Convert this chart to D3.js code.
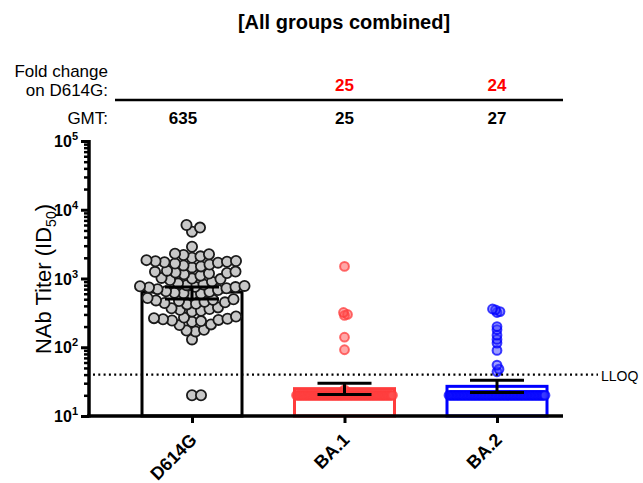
<!DOCTYPE html>
<html>
<head>
<meta charset="utf-8">
<script src="https://cdn.jsdelivr.net/npm/d3@7"></script>
<style>
  body { margin: 0; background: #fff; }
  text { font-family: "Liberation Sans", Arial, sans-serif; }
</style>
</head>
<body>
<div id="chart"></div>
<script>
// groups and summary values
var categories = ["D614G", "BA.1", "BA.2"];
var gmt = [635, 25, 27];
var foldChange = ["", "25", "24"];
var ciLow = [505, 20.5, 22];
var ciHigh = [755, 30, 33];
var lloq = 40;
var majorTicks = [10, 100, 1000, 10000, 100000];

// individual titers
var d614g = [6000, 5500, 4800, 2900,
  2300, 2250, 2200, 2100, 2000,
  1850, 1800, 1780, 1750, 1720, 1700, 1650, 1600,
  1550, 1500, 1450,
  1300, 1260, 1250, 1220, 1200, 1180, 1150, 1100,
  1020, 1000, 980, 950, 900,
  850, 820, 800, 780, 770, 760, 750, 740, 720, 700, 680,
  650, 640, 620, 610, 600, 580,
  520, 500, 490, 480, 470, 460, 450, 440, 430, 420,
  380, 370, 360, 350, 340, 330,
  280, 270, 265, 260, 255, 250, 245, 240, 235,
  215, 210, 180, 175, 170, 130, 20, 20];
var ba1 = [1500, 320, 300, 290, 140, 92, 24];
var ba2 = [360, 350, 330, 320, 200, 180, 150, 130, 115, 90, 55, 48, 44];
var nFloor = [0, 76, 70];   // samples sitting at the floor value (20)
var floorValue = 20;

var strokeCol = ["#000000", "#ff3c3c", "#0000ff"],
    dotFill = ["#c8c8c8", "rgba(255,80,80,0.5)", "rgba(60,60,255,0.5)"];

var width = 643, height = 483;

var svg = d3.select("#chart").append("svg")
  .attr("width", width)
  .attr("height", height);

var y = d3.scaleLog().domain([10, 100000]).range([416, 141]);
var x = d3.scalePoint().domain(categories).range([192, 497]);
var barW = 100;

// title
svg.append("text")
  .attr("x", 344).attr("y", 29)
  .attr("text-anchor", "middle")
  .style("font-size", "20px").style("font-weight", "bold")
  .text("[All groups combined]");

// header table
svg.append("text").attr("x", 108).attr("y", 77).attr("text-anchor", "end")
  .style("font-size", "17px").text("Fold change");
svg.append("text").attr("x", 108).attr("y", 96).attr("text-anchor", "end")
  .style("font-size", "17px").text("on D614G:");
svg.append("text").attr("x", 108).attr("y", 124).attr("text-anchor", "end")
  .style("font-size", "17px").text("GMT:");

svg.append("line")
  .attr("x1", 115).attr("x2", 563).attr("y1", 100).attr("y2", 100)
  .attr("stroke", "#000").attr("stroke-width", 2.5);

svg.selectAll(".fold").data(categories).enter().append("text")
  .attr("x", function(d) { return x(d); })
  .attr("y", 91)
  .attr("text-anchor", "middle")
  .style("font-size", "17px").style("font-weight", "bold")
  .attr("fill", "#ff0000")
  .text(function(d, i) { return foldChange[i]; });

svg.selectAll(".gmt").data(categories).enter().append("text")
  .attr("x", function(d, i) { return i == 0 ? x(d) - 9 : x(d); })
  .attr("y", 124)
  .attr("text-anchor", "middle")
  .style("font-size", "17px").style("font-weight", "bold")
  .text(function(d, i) { return gmt[i]; });

// bars
svg.selectAll(".bar").data(categories).enter().append("rect")
  .attr("x", function(d) { return x(d) - barW / 2; })
  .attr("y", function(d, i) { return y(gmt[i]); })
  .attr("width", barW)
  .attr("height", function(d, i) { return y(10) - y(gmt[i]); })
  .attr("fill", "#fff")
  .attr("stroke", function(d, i) { return strokeCol[i]; })
  .attr("stroke-width", 3);

// simple beeswarm: keep each y, push x out until no overlap
function swarm(values, cx, dist) {
  var placed = [];
  var pts = values.map(function(v) { return { v: v, y: y(v) }; })
    .sort(function(a, b) { return a.v - b.v; });
  pts.forEach(function(p) {
    for (var k = 0; k < 400; k++) {
      var off = (k % 2 ? 1 : -1) * Math.ceil(k / 2) * 0.5;
      var ok = placed.every(function(q) {
        var dx = q.x - (cx + off), dy = q.y - p.y;
        return dx * dx + dy * dy >= dist * dist;
      });
      if (ok) { p.x = cx + off; break; }
    }
    placed.push(p);
  });
  return placed;
}

var groups = [d614g, ba1, ba2];
groups.forEach(function(vals, gi) {
  var cx = x(categories[gi]);
  var pts = swarm(vals, cx, gi == 0 ? 8.6 : 3);
  // floor samples lined up across the bar
  var n = nFloor[gi];
  for (var j = 0; j < n; j++) {
    pts.push({ v: floorValue, y: y(floorValue), x: cx - 48 + j * 96 / (n - 1) });
  }
  svg.append("g").selectAll("circle").data(pts).enter().append("circle")
    .attr("cx", function(d) { return d.x; })
    .attr("cy", function(d) { return d.y; })
    .attr("r", gi == 0 ? 5.1 : 4.4)
    .attr("fill", dotFill[gi])
    .attr("stroke", gi == 0 ? "#1a1a1a" : strokeCol[gi])
    .attr("stroke-opacity", gi == 0 ? 1 : 0.75)
    .attr("stroke-width", gi == 0 ? 1.8 : 2);
});

// error bars
categories.forEach(function(c, i) {
  var g = svg.append("g").attr("stroke", "#000").attr("stroke-width", 3);
  g.append("line").attr("x1", x(c)).attr("x2", x(c))
    .attr("y1", y(ciLow[i])).attr("y2", y(ciHigh[i]));
  [ciLow[i], ciHigh[i]].forEach(function(v) {
    g.append("line").attr("x1", x(c) - 27).attr("x2", x(c) + 27)
      .attr("y1", y(v)).attr("y2", y(v));
  });
});

// LLOQ
svg.append("line")
  .attr("x1", 93).attr("x2", 598)
  .attr("y1", y(lloq)).attr("y2", y(lloq))
  .attr("stroke", "#000").attr("stroke-width", 2.2)
  .attr("stroke-dasharray", "2,3.3");
svg.append("text").attr("x", 601).attr("y", y(lloq) + 6)
  .style("font-size", "14px").text("LLOQ");

// y axis: minor ticks
var minorTicks = [];
for (var e = 1; e < 5; e++) {
  for (var m = 2; m <= 9; m++) minorTicks.push(m * Math.pow(10, e));
}
var yMinor = svg.append("g").attr("transform", "translate(89,0)")
  .call(d3.axisLeft(y).tickValues(minorTicks).tickSize(5).tickFormat(""));
yMinor.select(".domain").remove();
yMinor.selectAll("line").attr("stroke-width", 2.5);

var yMajor = svg.append("g").attr("transform", "translate(89,0)")
  .call(d3.axisLeft(y).tickValues(majorTicks).tickSize(8).tickFormat(""));
yMajor.select(".domain").remove();
yMajor.selectAll("line").attr("stroke-width", 3);

svg.append("line").attr("x1", 89).attr("x2", 89)
  .attr("y1", y(100000) - 1).attr("y2", y(10) + 1.5)
  .attr("stroke", "#000").attr("stroke-width", 3.5);

var tl = svg.append("g").selectAll("text").data(majorTicks).enter().append("text")
  .attr("x", 78)
  .attr("y", function(d) { return y(d) + 6; })
  .attr("text-anchor", "end")
  .style("font-size", "16px").style("font-weight", "bold");
tl.append("tspan").text("10");
tl.append("tspan").attr("dy", -7).style("font-size", "11px")
  .text(function(d) { return Math.round(Math.log10(d)); });

// y title
var yt = svg.append("text")
  .attr("transform", "translate(51,279) rotate(-90)")
  .attr("text-anchor", "middle")
  .style("font-size", "22px");
yt.append("tspan").text("NAb Titer (ID");
yt.append("tspan").attr("dy", 5).style("font-size", "14px").text("50");
yt.append("tspan").attr("dy", -5).text(")");

// x axis
var xAxis = svg.append("g").attr("transform", "translate(0,416)")
  .call(d3.axisBottom(x).tickSize(7).tickFormat(""));
xAxis.select(".domain").remove();
xAxis.selectAll("line").attr("stroke-width", 3);
svg.append("line").attr("x1", 87).attr("x2", 563)
  .attr("y1", 416).attr("y2", 416)
  .attr("stroke", "#000").attr("stroke-width", 3.5);

svg.selectAll(".xl").data(categories).enter().append("text")
  .attr("transform", function(d) { return "translate(" + (x(d) + 6) + ",441) rotate(-45)"; })
  .attr("text-anchor", "end")
  .style("font-size", "18px").style("font-weight", "bold")
  .text(function(d) { return d; });
</script>
</body>
</html>
